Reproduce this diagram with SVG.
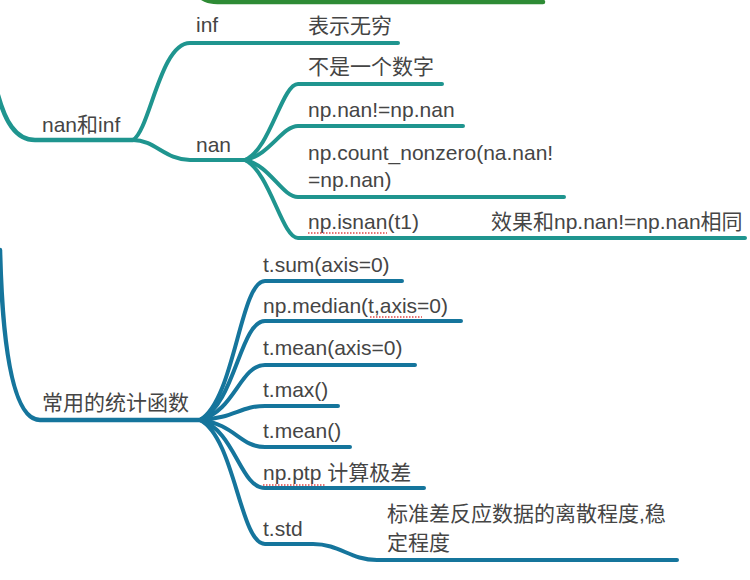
<svg xmlns="http://www.w3.org/2000/svg" width="750" height="580" viewBox="0 0 750 580">
<style>
.t{font-family:"Liberation Sans","Noto Sans CJK SC",sans-serif;font-size:21px;fill:#454545}
.teal{fill:none;stroke:#1f958f;stroke-width:4;stroke-linecap:round;stroke-linejoin:round}
.blue{fill:none;stroke:#15759c;stroke-width:4;stroke-linecap:round;stroke-linejoin:round}
.root{stroke-width:4.5}
.sp{fill:none;stroke:#e04848;stroke-width:1.5;stroke-dasharray:1.5 1.5}
</style>
<rect width="750" height="580" fill="#ffffff"/>
<g id="connectors">
  <path d="M198,-5 C205,1 210,2 222,2 L543,2" fill="none" stroke="#2e8b35" stroke-width="4.5" stroke-linecap="round"/>
  <path class="teal root" d="M-2,95 C5,120 15,140 35,140 L133,140"/>
  <path class="teal" d="M133,140 C150,130 160,43 190,43 L398,43"/>
  <path class="teal" d="M133,140 C155,140 165,160 190,160 L245,160"/>
  <path class="teal" d="M245,160 C270,150 282,84 298,84 L442,84"/>
  <path class="teal" d="M245,160 C270,155 282,126 298,126 L463,126"/>
  <path class="teal" d="M245,160 C270,165 282,197 298,197 L564,197"/>
  <path class="teal" d="M245,160 C270,172 282,238 298,238 L745,238"/>
  <path class="blue root" d="M0,250 C2,330 10,420 40,420 L200,420"/>
  <path class="blue" d="M200,420 C235,400 240,281 265,281 L402,281"/>
  <path class="blue" d="M200,420 C235,405 240,321 265,321 L461,321"/>
  <path class="blue" d="M200,420 C235,411 240,365 265,365 L415,365"/>
  <path class="blue" d="M200,420 C235,418 240,406 265,406 L338,406"/>
  <path class="blue" d="M200,420 C235,424 240,447 265,447 L350,447"/>
  <path class="blue" d="M200,420 C235,430 240,488 265,488 L424,488"/>
  <path class="blue" d="M200,420 C235,438 240,544 265,544 L313,544 C340,544 350,560 377,560 L677,560"/>
</g>
<g id="node-nan-inf"><text class="t" x="42" y="132">nan和inf</text></g>
<g id="node-inf"><text class="t" x="196" y="32">inf</text></g>
<g id="node-inf-desc"><text class="t" x="308" y="33">表示无穷</text></g>
<g id="node-nan"><text class="t" x="196" y="152">nan</text></g>
<g id="node-nan-1"><text class="t" x="308" y="74">不是一个数字</text></g>
<g id="node-nan-2"><text class="t" x="308" y="117">np.nan!=np.nan</text></g>
<g id="node-nan-3"><text class="t" x="308" y="160">np.count_nonzero(na.nan!</text><text class="t" x="308" y="187">=np.nan)</text></g>
<g id="node-nan-4"><text class="t" x="308" y="229">np.isnan(t1)</text><path class="sp" d="M308,233 L387,233"/></g>
<g id="node-nan-4-desc"><text class="t" x="491" y="229">效果和np.nan!=np.nan相同</text></g>
<g id="node-stats"><text class="t" x="42" y="410">常用的统计函数</text></g>
<g id="node-sum"><text class="t" x="263" y="272">t.sum(axis=0)</text></g>
<g id="node-median"><text class="t" x="263" y="313">np.median(t,axis=0)</text><path class="sp" d="M370,317 L422,317"/></g>
<g id="node-mean-axis"><text class="t" x="263" y="355">t.mean(axis=0)</text></g>
<g id="node-max"><text class="t" x="263" y="397">t.max()</text></g>
<g id="node-mean"><text class="t" x="263" y="438">t.mean()</text></g>
<g id="node-ptp"><text class="t" x="263" y="480">np.ptp 计算极差</text><path class="sp" d="M263,485 L326,485"/></g>
<g id="node-std"><text class="t" x="263" y="536">t.std</text></g>
<g id="node-std-desc"><text class="t" x="387" y="521">标准差反应数据的离散程度,稳</text><text class="t" x="387" y="550">定程度</text></g>
</svg>
